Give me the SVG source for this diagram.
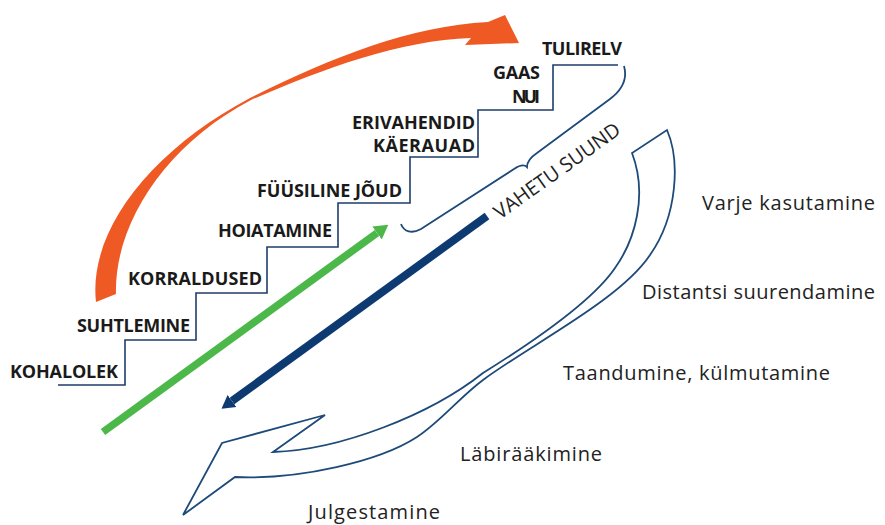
<svg xmlns="http://www.w3.org/2000/svg" width="885" height="525" viewBox="0 0 885 525">
<style>
.b{font-family:"Open Sans","Liberation Sans",sans-serif;font-weight:bold;font-size:18px;fill:#1a1a1a}
.r{font-family:"Open Sans","Liberation Sans",sans-serif;font-size:20px;fill:#222}
.stair{fill:none;stroke:#1f3d6b;stroke-width:1.6}
.outline{fill:none;stroke:#1d4a78;stroke-width:1.8;stroke-linejoin:miter}
</style>
<defs>
<marker id="hg" markerUnits="userSpaceOnUse" viewBox="0 -9 15 18" markerWidth="15" markerHeight="18" refX="0" refY="0" orient="auto">
<path d="M0,-8 L14,0 L0,8 Z" fill="#4db84a"/>
</marker>
<marker id="hb" markerUnits="userSpaceOnUse" viewBox="0 -9 15 18" markerWidth="15" markerHeight="18" refX="0" refY="0" orient="auto">
<path d="M0,-7.5 L13,0 L0,7.5 Z" fill="#0e3a72"/>
</marker>
</defs>
<rect width="885" height="525" fill="#fff"/>
<g id="connectors">
<path id="orange-arrow" d="M96,302 C88,230 152,150 250,98 C330,58 410,26 488,22 L505,15 L519,43 L465,45 L471,38 C400,40 320,70 251,100 C165,145 114,225 116,294 Z" fill="#ef5a24"/>
<path id="stairs" class="stair" d="M58,385 H125 V340 H196 V293 H267 V247 H338 V203 H410 V157 H478 V110 H553 V65 H618"/>
<path id="brace" class="outline" d="M401,224 C404,232 412,234 421,229 L514,169 C520,165 524,164 527,167 C527,161 531,157 537,153 L610,99 C622,90 628,80 624,66"/>
<line id="green-arrow" x1="103" y1="432" x2="377" y2="233" stroke="#4db84a" stroke-width="7.5" marker-end="url(#hg)"/>
<line id="blue-arrow" x1="487" y1="216" x2="232" y2="401" stroke="#0e3a72" stroke-width="8" marker-end="url(#hb)"/>
<path id="hollow-arrow" class="outline" d="M667,130 C680,160 678,215 650,255 C620,300 530,345 483,380 C460,397 440,422 417,437 C380,461 300,480 235,477 L183,515 L222,443 L325,415 L273,452 C340,450 430,415 483,373 C520,350 590,305 615,268 C635,240 648,195 632,153 Z"/>
</g>
<g id="kohalolek"><text class="b" x="118" y="378" text-anchor="end" textLength="108">KOHALOLEK</text></g>
<g id="suhtlemine"><text class="b" x="190" y="332" text-anchor="end" textLength="113">SUHTLEMINE</text></g>
<g id="korraldused"><text class="b" x="262" y="285" text-anchor="end" textLength="134">KORRALDUSED</text></g>
<g id="hoiatamine"><text class="b" x="332" y="237" text-anchor="end" textLength="114">HOIATAMINE</text></g>
<g id="fuusiline-joud"><text class="b" x="402" y="197" text-anchor="end" textLength="145">FÜÜSILINE JÕUD</text></g>
<g id="erivahendid"><text class="b" x="475" y="129" text-anchor="end" textLength="123">ERIVAHENDID</text></g>
<g id="kaerauad"><text class="b" x="475" y="152" text-anchor="end" textLength="102">KÄERAUAD</text></g>
<g id="gaas"><text class="b" x="540" y="79" text-anchor="end" textLength="47">GAAS</text></g>
<g id="nui"><text class="b" x="540" y="103" text-anchor="end" textLength="28">NUI</text></g>
<g id="tulirelv"><text class="b" x="622" y="55" text-anchor="end" textLength="80">TULIRELV</text></g>
<g id="vahetu-suund"><text class="r" transform="translate(500,220) rotate(-35.5)" x="0" y="0" textLength="150">VAHETU SUUND</text></g>
<g id="varje"><text class="r" x="702" y="210" textLength="173">Varje kasutamine</text></g>
<g id="distantsi"><text class="r" x="642" y="299" textLength="233">Distantsi suurendamine</text></g>
<g id="taandumine"><text class="r" x="563" y="380" textLength="267">Taandumine, külmutamine</text></g>
<g id="labiraakimine"><text class="r" x="460" y="461" textLength="142">Läbirääkimine</text></g>
<g id="julgestamine"><text class="r" x="308" y="519" textLength="132">Julgestamine</text></g>
</svg>
